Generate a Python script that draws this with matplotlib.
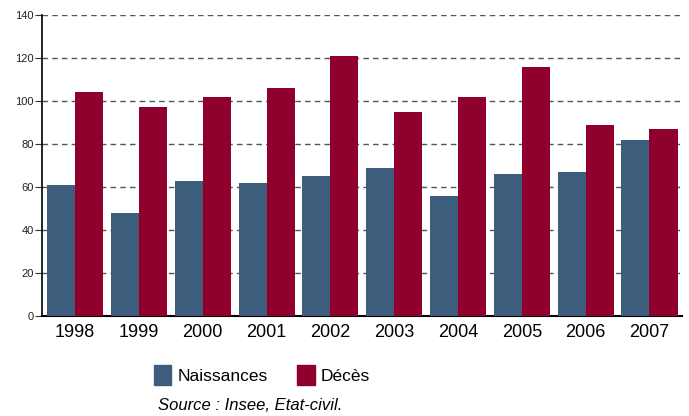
import matplotlib
matplotlib.use("Agg")
import matplotlib.pyplot as plt
import numpy as np
from matplotlib.patches import Patch

years = ["1998", "1999", "2000", "2001", "2002", "2003", "2004", "2005", "2006", "2007"]
naissances = [61, 48, 63, 62, 65, 69, 56, 66, 67, 82]
deces = [104, 97, 102, 106, 121, 95, 102, 116, 89, 87]
y_ticks = [0, 20, 40, 60, 80, 100, 120, 140]

BLUE = "#3c5d7c"
RED = "#8f002d"

plt.rcParams["font.family"] = ["Liberation Sans", "DejaVu Sans"]

fig = plt.figure(figsize=(6.89, 4.16), dpi=100)
ax = fig.add_axes([42 / 689, 1 - 316 / 416, 640 / 689, 301 / 416])

x = np.arange(len(years))
w = 0.44
ax.bar(x - w / 2, naissances, w, color=BLUE, zorder=3)
ax.bar(x + w / 2, deces, w, color=RED, zorder=3)

ax.set_xlim(-0.52, 9.51)
ax.set_ylim(0, 140)
ax.set_yticks(y_ticks)
ax.set_xticks(x)
ax.set_xticklabels(years, fontsize=13)
ax.tick_params(axis="x", length=0, pad=6)
ax.tick_params(axis="y", length=5, width=0.8, labelsize=8, pad=1, color="#333333", labelcolor="#222222")
ax.yaxis.grid(True, linestyle=(0, (4, 3)), color="#555555", linewidth=1, zorder=0)
for s in ("top", "right"):
    ax.spines[s].set_visible(False)
ax.spines["left"].set_linewidth(1.2)
ax.spines["bottom"].set_linewidth(1.5)

# legend below the axis, source line under it
handles = [Patch(color=BLUE, label="Naissances"), Patch(color=RED, label="Décès")]
fig.legend(handles=handles, loc="center", bbox_to_anchor=(262 / 689, 1 - 375 / 416),
           ncol=2, frameon=False, fontsize=12.5,
           handlelength=1.0, handleheight=1.35, handletextpad=0.35, columnspacing=1.7)

fig.text(158 / 689, 1 - 405 / 416, "Source : Insee, Etat-civil.", fontsize=12,
         style="italic", ha="left", va="center")

fig.savefig("out.png", dpi=100)
